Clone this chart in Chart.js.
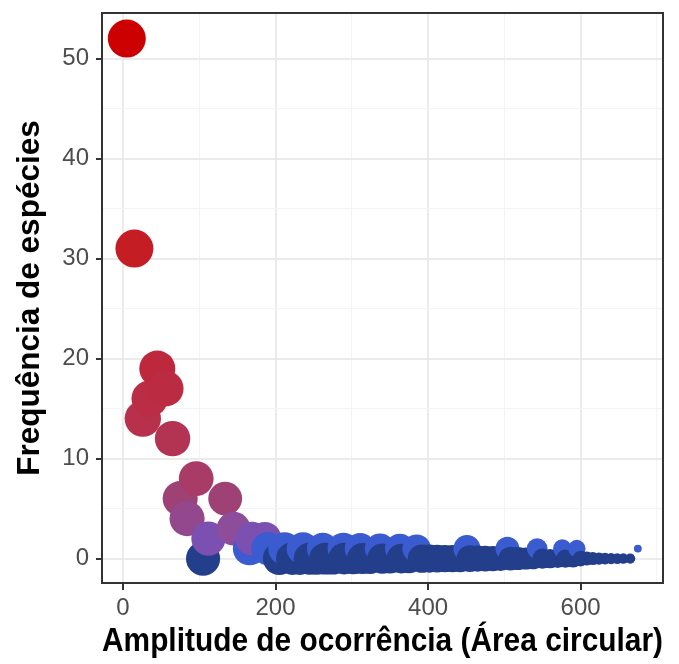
<!DOCTYPE html>
<html>
<head>
<meta charset="utf-8">
<script src="https://cdn.jsdelivr.net/npm/chart.js@4.4.1/dist/chart.umd.min.js"></script>
<style>
  body { margin: 0; background: #ffffff; }
</style>
</head>
<body>
<canvas id="grafico" width="679" height="664"></canvas>
<script>
// amplitude de ocorrência (x), frequência de espécies (y), variável de tamanho
const amplitude = [5, 15, 26, 35, 45, 56, 65, 75, 84, 96, 105, 112, 134, 145, 166, 169, 186, 190,
    205, 212, 222, 232, 236, 245, 254, 262, 265, 275, 289, 290, 302, 311, 314, 324, 337, 340, 350,
    363, 365, 375, 385, 392, 402, 412, 422, 432, 442, 451, 455, 465, 475, 485, 495, 504, 508, 518,
    528, 538, 543, 550, 560, 570, 576, 580, 590, 595, 600, 608, 616, 624, 632, 640, 648, 656, 665, 675];
const frequencia = [52, 31, 14, 16, 19, 17, 12, 6, 4, 8, 0, 2, 6, 3, 1, 2, 2, 1,
    0, 1, 0, 0, 1, 0, 0, 1, 0, 0, 1, 0, 0, 1, 0, 0, 1, 0, 0,
    1, 0, 0, 1, 0, 0, 0, 0, 0, 0, 1, 0, 0, 0, 0, 0, 1, 0, 0,
    0, 0, 1, 0, 0, 0, 1, 0, 0, 1, 0, 0, 0, 0, 0, 0, 0, 0, 0, 1];
const tamanho = [10, 10, 9.5, 9.5, 9.4, 9.3, 9.2, 9.1, 9.1, 9.0, 8.8, 8.8, 8.7, 8.7, 8.6, 8.6, 8.5, 8.5,
    8.4, 8.4, 8.3, 8.3, 8.3, 8.2, 8.2, 8.1, 8.1, 8.1, 8.0, 8.0, 7.9, 7.8, 7.8, 7.7, 7.6, 7.6, 7.5,
    7.4, 7.4, 7.3, 7.0, 7.0, 6.9, 6.8, 6.7, 6.6, 6.6, 6.6, 6.5, 6.3, 6.2, 6.0, 5.8, 5.6, 5.6, 5.3,
    5.0, 4.8, 4.6, 4.4, 4.2, 4.0, 3.9, 3.8, 3.7, 3.6, 3.0, 2.5, 2.2, 2.0, 1.8, 1.6, 1.5, 1.4, 1.3, 0.6];
const ticksX = [0, 200, 400, 600];
const ticksY = [0, 10, 20, 30, 40, 50];

// escala de cor pela frequência
const corNivel = [0, 1, 2, 3, 4, 6, 8, 12, 16, 19, 31, 52];
const corRGB = [[35, 62, 139], [59, 92, 208], [123, 80, 176], [142, 77, 154], [147, 71, 140],
    [158, 66, 117], [168, 60, 102], [179, 52, 82], [186, 45, 69], [190, 40, 60],
    [196, 30, 36], [204, 0, 0]];

function corPara(v) {
    for (let i = 1; i < corNivel.length; i++) {
        if (v <= corNivel[i]) {
            const t = (v - corNivel[i - 1]) / (corNivel[i] - corNivel[i - 1]);
            const a = corRGB[i - 1], b = corRGB[i];
            const c = a.map((x, k) => Math.round(x + (b[k] - x) * t));
            return `rgb(${c[0]},${c[1]},${c[2]})`;
        }
    }
    return 'rgb(204,0,0)';
}

function raioPara(s) {
    return 3 + 1.6 * s;
}

const pontos = amplitude.map((x, i) => ({ x: x, y: frequencia[i], s: tamanho[i] }));

const fonte = "'Liberation Sans', Arial, sans-serif";

const moldura = {
    id: 'moldura',
    afterDraw(chart) {
        const a = chart.chartArea;
        const ctx = chart.ctx;
        ctx.save();
        ctx.strokeStyle = '#333333';
        ctx.lineWidth = 2;
        ctx.strokeRect(a.left, a.top, a.right - a.left, a.bottom - a.top);
        ctx.restore();
    }
};

new Chart(document.getElementById('grafico'), {
    type: 'scatter',
    data: {
        datasets: [{
            data: pontos,
            pointRadius: ctx => raioPara(ctx.raw.s),
            pointBackgroundColor: ctx => corPara(ctx.raw.y),
            pointBorderWidth: 0,
            pointHoverRadius: ctx => raioPara(ctx.raw.s)
        }]
    },
    options: {
        responsive: false,
        devicePixelRatio: 1,
        animation: false,
        events: [],
        layout: { autoPadding: false, padding: { top: 13, right: 16, left: 0, bottom: 0 } },
        plugins: { legend: { display: false }, tooltip: { enabled: false } },
        scales: {
            x: {
                type: 'linear',
                min: -27.5,
                max: 708,
                afterFit: s => {
                    s.height = 81;
                    s.paddingLeft = 0;
                    s.paddingRight = 0;
                },
                border: { display: false },
                grid: {
                    color: c => (c.tick && ticksX.includes(c.tick.value)) ? '#EBEBEB' : '#F3F3F3',
                    lineWidth: c => (c.tick && ticksX.includes(c.tick.value)) ? 2 : 1,
                    tickColor: c => (c.tick && ticksX.includes(c.tick.value)) ? '#333333' : 'rgba(0,0,0,0)',
                    tickWidth: 2,
                    tickLength: 7
                },
                ticks: {
                    stepSize: 100,
                    includeBounds: false,
                    maxRotation: 0,
                    autoSkip: false,
                    padding: 4,
                    color: '#4D4D4D',
                    font: { family: fonte, size: 24 },
                    callback: v => ticksX.includes(v) ? String(v) : ''
                },
                title: {
                    display: true,
                    text: 'Amplitude de ocorrência (Área circular)',
                    color: '#000000',
                    font: { family: fonte, size: 32.5, weight: 'bold' },
                    padding: { top: 0, bottom: 2 }
                }
            },
            y: {
                type: 'linear',
                min: -2.44,
                max: 54.56,
                afterFit: s => {
                    s.width = 102;
                    s.paddingTop = 0;
                    s.paddingBottom = 0;
                },
                border: { display: false },
                grid: {
                    color: c => (c.tick && ticksY.includes(c.tick.value)) ? '#EBEBEB' : '#F3F3F3',
                    lineWidth: c => (c.tick && ticksY.includes(c.tick.value)) ? 2 : 1,
                    tickColor: c => (c.tick && ticksY.includes(c.tick.value)) ? '#333333' : 'rgba(0,0,0,0)',
                    tickWidth: 2,
                    tickLength: 6
                },
                ticks: {
                    stepSize: 5,
                    includeBounds: false,
                    autoSkip: false,
                    padding: 7,
                    color: '#4D4D4D',
                    font: { family: fonte, size: 24 },
                    callback: v => ticksY.includes(v) ? String(v) : ''
                },
                title: {
                    display: true,
                    text: 'Frequência de espécies',
                    color: '#000000',
                    font: { family: fonte, size: 31.5, weight: 'bold' },
                    padding: { top: 11, bottom: 0 }
                }
            }
        }
    },
    plugins: [moldura]
});
</script>
</body>
</html>
